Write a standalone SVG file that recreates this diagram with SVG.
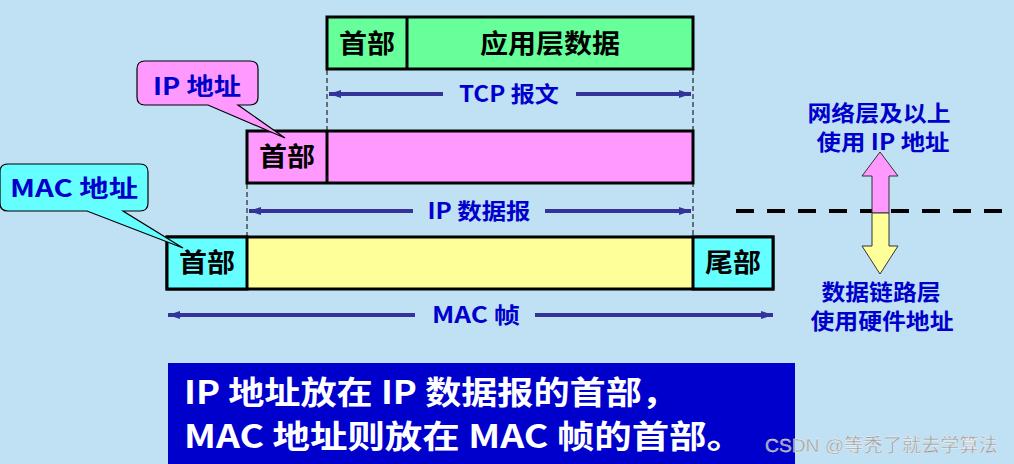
<svg xmlns="http://www.w3.org/2000/svg" width="1014" height="464" viewBox="0 0 1014 464">
<style>
.cn{font-family:"Noto Sans CJK SC","Noto Sans",sans-serif;font-weight:bold}
.box{stroke:#000;stroke-width:3}
.lbl{font-size:26px;fill:#000;text-anchor:middle}
.blu{fill:#0000CC;text-anchor:middle}
.arr{stroke:#333399;stroke-width:4;fill:none}
.vd{stroke:#000;stroke-width:1;stroke-dasharray:5 3;fill:none}
</style>
<defs>
<marker id="ah" viewBox="0 0 12 8" refX="12" refY="4" markerWidth="12" markerHeight="8" markerUnits="userSpaceOnUse" orient="auto-start-reverse">
<path d="M0,0 L12,4 L0,8 Z" fill="#333399"/>
</marker>
</defs>
<rect width="1014" height="464" fill="#C0E0F4"/>

<g id="connectors">
<path class="vd" d="M327,70 V131 M693,70 V237 M247,184 V237"/>
<path class="arr" d="M443,94 H329" marker-end="url(#ah)"/>
<path class="arr" d="M576,94 H691" marker-end="url(#ah)"/>
<path class="arr" d="M413,211 H249" marker-end="url(#ah)"/>
<path class="arr" d="M545,211 H691" marker-end="url(#ah)"/>
<path class="arr" d="M415,315 H168" marker-end="url(#ah)"/>
<path class="arr" d="M535,315 H773" marker-end="url(#ah)"/>
</g>

<g id="tcp">
<rect class="box" x="327" y="17" width="366" height="52" fill="#66FF99"/>
<line class="box" x1="407" y1="17" x2="407" y2="69"/>
<text class="cn lbl" x="367" y="53" textLength="56" lengthAdjust="spacingAndGlyphs">首部</text>
<text class="cn lbl" x="550" y="53" textLength="140" lengthAdjust="spacingAndGlyphs">应用层数据</text>
</g>
<text id="tcp-label" class="cn blu" x="509" y="102" font-size="22" textLength="100" lengthAdjust="spacingAndGlyphs">TCP 报文</text>

<g id="ip">
<rect class="box" x="247" y="131" width="446" height="52" fill="#FF99FF"/>
<line class="box" x1="327" y1="131" x2="327" y2="183"/>
<text class="cn lbl" x="287" y="166" textLength="56" lengthAdjust="spacingAndGlyphs">首部</text>
</g>
<text id="ip-label" class="cn blu" x="479" y="219" font-size="22" textLength="103" lengthAdjust="spacingAndGlyphs">IP 数据报</text>

<g id="mac">
<rect class="box" x="167" y="237" width="606" height="52" fill="#FFFF99"/>
<rect class="box" x="167" y="237" width="80" height="52" fill="#66FFFF"/>
<rect class="box" x="693" y="237" width="80" height="52" fill="#66FFFF"/>
<text class="cn lbl" x="207" y="272" textLength="56" lengthAdjust="spacingAndGlyphs">首部</text>
<text class="cn lbl" x="733" y="272" textLength="56" lengthAdjust="spacingAndGlyphs">尾部</text>
</g>
<text id="mac-label" class="cn blu" x="476" y="323" font-size="22" textLength="88" lengthAdjust="spacingAndGlyphs">MAC 帧</text>

<g id="ip-callout">
<path d="M145,61 H250 Q258,61 258,69 V97 Q258,105 250,105 H238 L285,138 L208,105 H145 Q137,105 137,97 V69 Q137,61 145,61 Z" fill="#FF99FF" stroke="#000" stroke-width="1.2"/>
<text class="cn blu" x="197" y="95" font-size="24" textLength="88" lengthAdjust="spacingAndGlyphs">IP 地址</text>
</g>

<g id="mac-callout">
<path d="M8,164 H140 Q148,164 148,172 V203 Q148,211 140,211 H123 L183,248 L87,211 H8 Q0,211 0,203 V172 Q0,164 8,164 Z" fill="#66FFFF" stroke="#000" stroke-width="1.2"/>
<text class="cn blu" x="74" y="197" font-size="24" textLength="128" lengthAdjust="spacingAndGlyphs">MAC 地址</text>
</g>

<line id="layer-line" x1="736" y1="211" x2="1004" y2="211" stroke="#000" stroke-width="4" stroke-dasharray="18 13"/>

<g id="layer-arrow" stroke="#333" stroke-width="1">
<path d="M880,152 L898,176 L889,176 L889,213 L872,213 L872,176 L862,176 Z" fill="#FF99FF"/>
<path d="M872,213 L889,213 L889,246 L898,246 L880,274 L862,246 L872,246 Z" fill="#FFFF99"/>
</g>

<g id="layer-text">
<text class="cn blu" x="879" y="121" font-size="22" textLength="143" lengthAdjust="spacingAndGlyphs">网络层及以上</text>
<text class="cn blu" x="883" y="150" font-size="22" textLength="133" lengthAdjust="spacingAndGlyphs">使用 IP 地址</text>
<text class="cn blu" x="881" y="300" font-size="22" textLength="119" lengthAdjust="spacingAndGlyphs">数据链路层</text>
<text class="cn blu" x="882" y="329" font-size="22" textLength="143" lengthAdjust="spacingAndGlyphs">使用硬件地址</text>
</g>

<g id="note">
<rect x="168" y="363" width="627" height="101" fill="#0000CC"/>
<text class="cn" x="184" y="404" font-size="32" fill="#fff" textLength="494" lengthAdjust="spacingAndGlyphs">IP 地址放在 IP 数据报的首部，</text>
<text class="cn" x="184" y="448" font-size="32" fill="#fff" textLength="560" lengthAdjust="spacingAndGlyphs">MAC 地址则放在 MAC 帧的首部。</text>
</g>

<text x="765" y="452" font-family="'Liberation Sans','Noto Sans CJK SC',sans-serif" font-size="19" fill="#999" stroke="#fff" stroke-width="0.3" textLength="233" lengthAdjust="spacingAndGlyphs">CSDN @等秃了就去学算法</text>
</svg>
